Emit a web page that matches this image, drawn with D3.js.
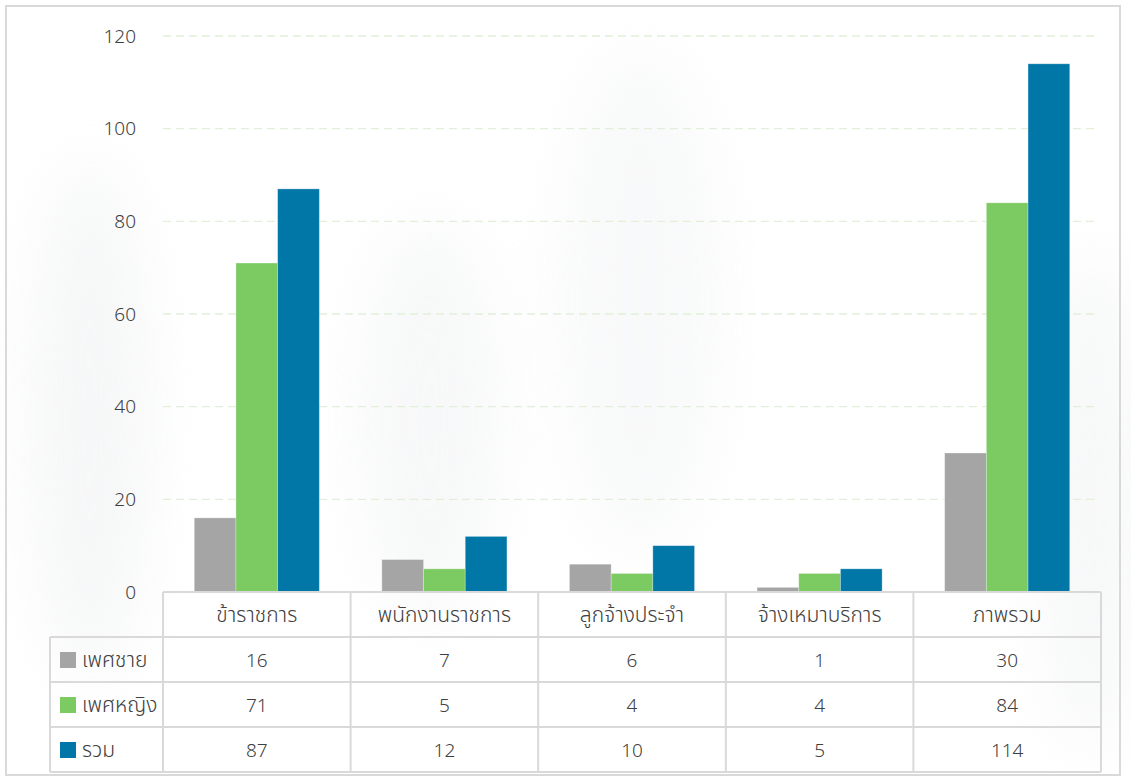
<!DOCTYPE html>
<html>
<head>
<meta charset="utf-8">
<script src="https://cdn.jsdelivr.net/npm/d3@7"></script>
<style>
  body { margin: 0; background: #fff; }
  text { font-family: "Noto Sans", "Noto Sans Thai", "DejaVu Sans", sans-serif; fill: #404040; }
  .num { font-weight: 300; }
</style>
</head>
<body>
<div id="container"></div>
<script>
/* DATA */
const categories = ["ข้าราชการ", "พนักงานราชการ", "ลูกจ้างประจำ", "จ้างเหมาบริการ", "ภาพรวม"];
const seriesNames = ["เพศชาย", "เพศหญิง", "รวม"];
const male = [16, 7, 6, 1, 30];
const female = [71, 5, 4, 4, 84];
const total = [87, 12, 10, 5, 114];
const yTicks = [0, 20, 40, 60, 80, 100, 120];

const seriesValues = [male, female, total];
const colors = ["#a5a5a5", "#7cca62", "#0077a6"];

/* LAYOUT */
const width = 1131, height = 781;
const plotLeft = 163, plotRight = 1101, plotTop = 36, plotBottom = 592;
const rowH = 45, legendLeft = 50;

const svg = d3.select("#container").append("svg")
  .attr("width", width).attr("height", height);

// faint backdrop
const defs = svg.append("defs");
defs.append("filter").attr("id", "blur").append("feGaussianBlur").attr("stdDeviation", 30);
const bg = svg.append("g").attr("filter", "url(#blur)").attr("opacity", 0.35);
bg.append("ellipse").attr("cx", 90).attr("cy", 420).attr("rx", 60).attr("ry", 260).attr("fill", "#e6e8ea");
bg.append("ellipse").attr("cx", 430).attr("cy", 420).attr("rx", 70).attr("ry", 200).attr("fill", "#e9ebed");
bg.append("ellipse").attr("cx", 640).attr("cy", 300).attr("rx", 80).attr("ry", 250).attr("fill", "#eceef0");
bg.append("ellipse").attr("cx", 1090).attr("cy", 500).attr("rx", 50).attr("ry", 250).attr("fill", "#e8eaec");

svg.append("rect")
  .attr("x", 6).attr("y", 6).attr("width", 1114).attr("height", 769)
  .attr("fill", "none").attr("stroke", "#d9d9d9").attr("stroke-width", 2);

/* SCALES */
const x0 = d3.scaleBand().domain(categories).range([plotLeft, plotRight]);
const x1 = d3.scaleBand().domain(seriesNames).range([0, x0.bandwidth()]).paddingOuter(0.75).paddingInner(0);
const y = d3.scaleLinear().domain([0, 120]).range([plotBottom, plotTop]);

/* GRID */
svg.append("g").selectAll("line")
  .data(yTicks.filter(d => d > 0))
  .join("line")
  .attr("x1", plotLeft).attr("x2", plotRight - 3)
  .attr("y1", d => y(d)).attr("y2", d => y(d))
  .attr("stroke", "#e2f0d9").attr("stroke-width", 1.3)
  .attr("stroke-dasharray", "8,5");

/* Y AXIS */
const yAxis = svg.append("g")
  .attr("transform", `translate(136,0)`)
  .call(d3.axisLeft(y).tickValues(yTicks).tickSize(0).tickPadding(0));
yAxis.select(".domain").remove();
yAxis.selectAll("text").attr("font-size", 19).attr("fill", "#404040")
  .attr("class", "num")
  .style("font-family", '"Noto Sans", sans-serif');

/* BARS */
seriesNames.forEach((s, si) => {
  svg.append("g").selectAll("rect")
    .data(categories.map((c, i) => ({ c, v: seriesValues[si][i] })))
    .join("rect")
    .attr("x", d => x0(d.c) + x1(s))
    .attr("y", d => y(d.v))
    .attr("width", x1.bandwidth())
    .attr("height", d => plotBottom - y(d.v))
    .attr("fill", colors[si])
    .attr("stroke", "rgba(255,255,255,0.35)").attr("stroke-width", 0.8);
});

/* DATA TABLE */
const table = svg.append("g");
const lineColor = "#d9d9d9";
const tableBottom = plotBottom + rowH * 4;

// header row cells (categories)
table.selectAll("text.cat")
  .data(categories)
  .join("text")
  .attr("class", "cat")
  .attr("x", d => x0(d) + x0.bandwidth() / 2)
  .attr("y", plotBottom + rowH / 2 + 7)
  .attr("text-anchor", "middle")
  .attr("font-size", 21)
  .attr("font-weight", 300)
  .text(d => d);

// horizontal lines
table.append("line")
  .attr("x1", plotLeft).attr("x2", plotRight).attr("y1", plotBottom).attr("y2", plotBottom)
  .attr("stroke", lineColor).attr("stroke-width", 2);
[1, 2, 3, 4].forEach(r => {
  table.append("line")
    .attr("x1", legendLeft).attr("x2", plotRight)
    .attr("y1", plotBottom + r * rowH).attr("y2", plotBottom + r * rowH)
    .attr("stroke", lineColor).attr("stroke-width", 2);
});
// vertical lines
categories.concat(["__end"]).forEach((c, i) => {
  const xx = i < categories.length ? x0(c) : plotRight;
  table.append("line")
    .attr("x1", xx).attr("x2", xx)
    .attr("y1", plotBottom).attr("y2", tableBottom)
    .attr("stroke", lineColor).attr("stroke-width", 2);
});
table.append("line")
  .attr("x1", legendLeft).attr("x2", legendLeft)
  .attr("y1", plotBottom + rowH).attr("y2", tableBottom)
  .attr("stroke", lineColor).attr("stroke-width", 2);

// series rows
seriesNames.forEach((s, si) => {
  const rowY = plotBottom + (si + 1) * rowH;
  table.append("rect")
    .attr("x", 60).attr("y", rowY + 15).attr("width", 16).attr("height", 16)
    .attr("fill", colors[si]);
  table.append("text")
    .attr("x", 82).attr("y", rowY + rowH / 2 + 7)
    .attr("font-size", 21)
    .attr("font-weight", 300)
    .text(s);
  table.selectAll(null)
    .data(categories)
    .join("text")
    .attr("class", "num")
    .attr("x", d => x0(d) + x0.bandwidth() / 2)
    .attr("y", rowY + rowH / 2 + 7)
    .attr("text-anchor", "middle")
    .attr("font-size", 19)
    .text((d, i) => seriesValues[si][i]);
});
</script>
</body>
</html>
